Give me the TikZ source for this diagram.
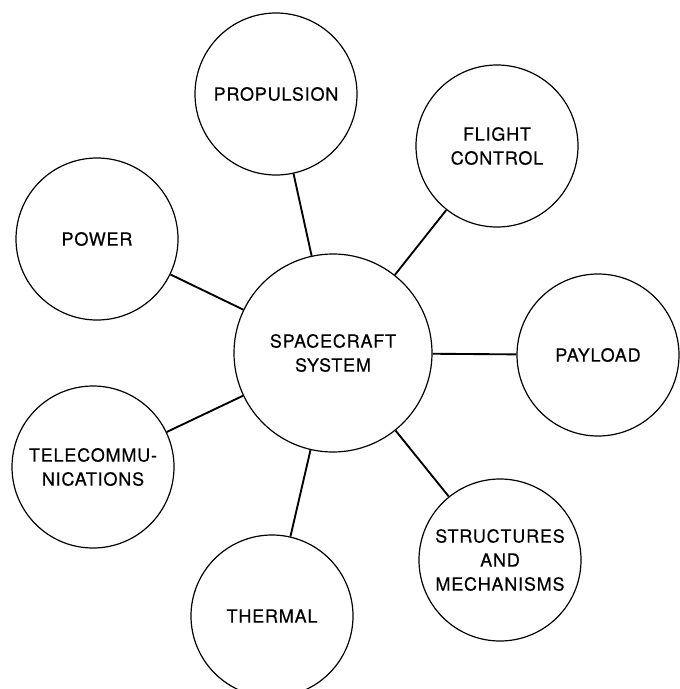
\documentclass[tikz,border=0pt]{standalone}
\usepackage{fontspec}
\setmainfont{TeX Gyre Heros}[LetterSpace=4.5, FakeBold=0.4]
\tikzset{
hub/.style={draw, circle, line width=0.9pt, inner sep=0pt, minimum size=148.5pt,
  align=center, font=\fontsize{13.5}{18}\selectfont},
subsys/.style={hub, minimum size=121.5pt},
link/.style={line width=1.4pt}
}
\begin{document}
\begin{tikzpicture}[x=0.75pt,y=-0.75pt]
  \clip (0,0) rectangle (680,689);
  \useasboundingbox (0,0) rectangle (680,689);
  \node[hub] (sys) at (333,353) {SPACECRAFT\\SYSTEM};
  \node[subsys] (prop) at (276,94) {PROPULSION};
  \node[subsys] (flight) at (497,146) {FLIGHT\\CONTROL};
  \node[subsys] (power) at (97,239) {POWER};
  \node[subsys] (payload) at (598,355) {PAYLOAD};
  \node[subsys] (telecom) at (93,467) {TELECOMMU-\\NICATIONS};
  \node[subsys] (thermal) at (272,616) {THERMAL};
  \node[subsys] (struct) at (500,560) {STRUCTURES\\AND\\MECHANISMS};
  \draw[link] (sys) -- (prop);
  \draw[link] (sys) -- (flight);
  \draw[link] (sys) -- (power);
  \draw[link] (sys) -- (payload);
  \draw[link] (sys) -- (telecom);
  \draw[link] (sys) -- (thermal);
  \draw[link] (sys) -- (struct);
\end{tikzpicture}
\end{document}
